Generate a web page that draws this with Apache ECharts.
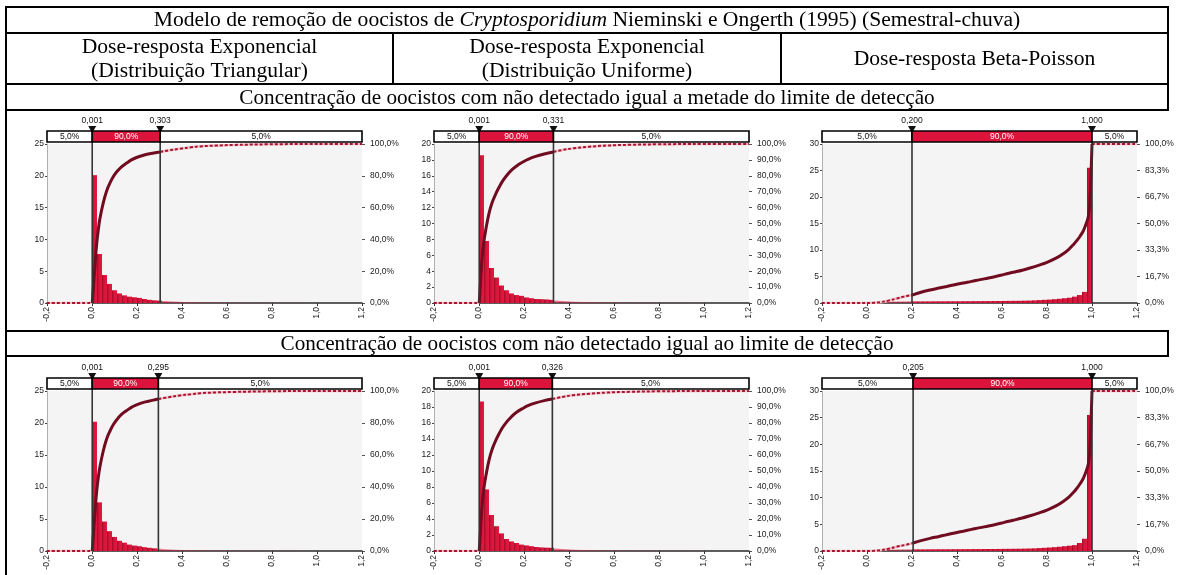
<!DOCTYPE html>
<html>
<head>
<meta charset="utf-8">
<script src="https://cdn.jsdelivr.net/npm/echarts@6/dist/echarts.min.js"></script>
<style>
  html, body { margin: 0; padding: 0; background: #fff; }
  #chart { width: 1184px; height: 575px; }
</style>
</head>
<body>
<div id="chart"></div>
<script>
// ---- Table texts ----
const titleParts = ['Modelo de remoção de oocistos de ', 'Cryptosporidium', ' Nieminski e Ongerth (1995) (Semestral-chuva)'];
const headerCols = [
  ['Dose-resposta Exponencial', '(Distribuição Triangular)'],
  ['Dose-resposta Exponencial', '(Distribuição Uniforme)'],
  ['Dose-resposta Beta-Poisson']
];
const rowTitles = [
  'Concentração de oocistos com não detectado igual a metade do limite de detecção',
  'Concentração de oocistos com não detectado igual ao limite de detecção'
];

// ---- Histogram bins (all panels share the same bin layout) ----
const binStart = 0;
const binWidth = 1 / 45;

// ---- Densities per bin ----
const densTopTri = [20.1, 7.7, 4.4, 3.0, 2.0, 1.5, 1.2, 1.0, 0.9, 0.8, 0.63, 0.5, 0.42, 0.37, 0.3,
  0.26, 0.22, 0.18, 0.15, 0.13, 0.11, 0.1, 0.09, 0.08, 0.07, 0.06, 0.05, 0.05, 0.04, 0.04,
  0.04, 0.03, 0.03, 0.03, 0.03, 0.02, 0.02, 0.02, 0.02, 0.02, 0.02, 0.02, 0.01, 0.01, 0.01];
const densTopUni = [18.6, 7.8, 4.4, 3.2, 2.2, 1.6, 1.2, 1.0, 0.9, 0.7, 0.6, 0.5, 0.48, 0.45, 0.4,
  0.3, 0.26, 0.22, 0.18, 0.15, 0.13, 0.11, 0.1, 0.09, 0.08, 0.07, 0.06, 0.05, 0.05, 0.04,
  0.04, 0.03, 0.03, 0.03, 0.03, 0.02, 0.02, 0.02, 0.02, 0.02, 0.02, 0.02, 0.01, 0.01, 0.01];
const densTopBeta = [0.1, 0.15, 0.2, 0.22, 0.25, 0.28, 0.3, 0.3, 0.32,
  0.3, 0.3, 0.31, 0.31, 0.32, 0.32, 0.32, 0.33, 0.33, 0.33, 0.34, 0.34, 0.35, 0.35, 0.36, 0.36,
  0.37, 0.38, 0.39, 0.4, 0.41, 0.42, 0.44, 0.46,
  0.5, 0.55, 0.6, 0.65, 0.72, 0.8, 0.9,
  1.0, 1.2, 1.5, 2.1, 25.5];
const densBotTri = [20.2, 7.6, 4.6, 3.1, 2.2, 1.6, 1.3, 1.0, 0.85, 0.75, 0.6, 0.5, 0.42, 0.35, 0.28,
  0.24, 0.2, 0.17, 0.14, 0.12, 0.1, 0.09, 0.08, 0.07, 0.06, 0.06, 0.05, 0.05, 0.04, 0.04,
  0.03, 0.03, 0.03, 0.03, 0.02, 0.02, 0.02, 0.02, 0.02, 0.02, 0.02, 0.01, 0.01, 0.01, 0.01];
const densBotUni = [18.7, 7.7, 4.5, 3.1, 2.2, 1.5, 1.2, 1.0, 0.8, 0.7, 0.6, 0.5, 0.45, 0.42, 0.4,
  0.3, 0.26, 0.22, 0.18, 0.15, 0.13, 0.11, 0.1, 0.09, 0.08, 0.07, 0.06, 0.05, 0.05, 0.04,
  0.04, 0.03, 0.03, 0.03, 0.03, 0.02, 0.02, 0.02, 0.02, 0.02, 0.02, 0.02, 0.01, 0.01, 0.01];
const densBotBeta = [0.1, 0.14, 0.19, 0.22, 0.25, 0.27, 0.29, 0.3, 0.31,
  0.3, 0.31, 0.31, 0.32, 0.32, 0.33, 0.33, 0.33, 0.34, 0.34, 0.35, 0.35, 0.36, 0.36, 0.37, 0.37,
  0.38, 0.39, 0.4, 0.41, 0.42, 0.43, 0.45, 0.47,
  0.5, 0.55, 0.6, 0.66, 0.72, 0.8, 0.9,
  1.0, 1.1, 1.5, 2.3, 25.5];

// ---- Cumulative curves: [value, cumulative %] ----
const cdfTopTri = [[-0.2, 0], [0.001, 0], [0.004, 6], [0.008, 14], [0.013, 23], [0.02, 36], [0.028, 46],
  [0.035, 53], [0.05, 63], [0.065, 70.5], [0.08, 75.5], [0.095, 79.5], [0.11, 82.5], [0.13, 85.5],
  [0.154, 88], [0.175, 90], [0.198, 91.5], [0.225, 92.8], [0.25, 93.7], [0.275, 94.4], [0.303, 95],
  [0.34, 96], [0.39, 97], [0.44, 97.9], [0.48, 98.5], [0.55, 99], [0.63, 99.4], [0.78, 99.8], [1.0, 100], [1.2, 100]];
const cdfTopUni = [[-0.2, 0], [0.001, 0], [0.004, 7], [0.008, 17], [0.015, 30], [0.022, 39], [0.03, 46],
  [0.044, 56], [0.058, 63], [0.074, 68.5], [0.09, 73], [0.104, 76.5], [0.125, 80.5], [0.148, 84],
  [0.17, 86.5], [0.193, 88.5], [0.22, 90.5], [0.252, 92.2], [0.29, 93.7], [0.331, 95],
  [0.37, 96.2], [0.42, 97.3], [0.49, 98.3], [0.567, 99], [0.67, 99.5], [0.79, 99.8], [1.0, 100], [1.2, 100]];
const cdfTopBeta = [[-0.2, 0], [0, 0], [0.03, 0.1], [0.058, 0.5], [0.095, 1.5], [0.132, 2.8], [0.165, 4], [0.2, 5],
  [0.24, 6.8], [0.28, 8.2], [0.32, 9.4], [0.354, 10.4], [0.39, 11.5], [0.428, 12.6], [0.465, 13.6],
  [0.502, 14.7], [0.54, 15.7], [0.576, 16.8], [0.61, 18], [0.65, 19.3], [0.69, 20.6], [0.724, 22],
  [0.762, 23.7], [0.8, 25.6], [0.84, 28.2], [0.872, 31], [0.897, 33.8], [0.917, 36.7], [0.935, 39.7],
  [0.947, 42], [0.96, 45], [0.969, 48], [0.978, 51.5], [0.984, 54.5], [0.99, 62], [1.0, 100], [1.2, 100]];
const cdfBotTri = [[-0.2, 0], [0.001, 0], [0.004, 6], [0.008, 14.5], [0.013, 23.5], [0.02, 36], [0.028, 46],
  [0.035, 52.5], [0.05, 62.5], [0.065, 70], [0.08, 75], [0.095, 79], [0.11, 82], [0.13, 85.2],
  [0.154, 87.8], [0.175, 89.8], [0.198, 91.3], [0.225, 92.7], [0.25, 93.6], [0.272, 94.3], [0.295, 95],
  [0.34, 96.1], [0.39, 97.2], [0.44, 98], [0.48, 98.6], [0.55, 99.1], [0.63, 99.4], [0.78, 99.8], [1.0, 100], [1.2, 100]];
const cdfBotUni = [[-0.2, 0], [0.001, 0], [0.004, 7], [0.008, 17], [0.015, 30.5], [0.022, 39.5], [0.03, 46.5],
  [0.044, 56.5], [0.058, 63.5], [0.074, 69], [0.09, 73.5], [0.104, 77], [0.125, 81], [0.148, 84.5],
  [0.17, 87], [0.193, 89], [0.22, 91], [0.252, 92.6], [0.29, 94], [0.326, 95],
  [0.37, 96.3], [0.42, 97.4], [0.49, 98.3], [0.567, 99], [0.67, 99.5], [0.79, 99.8], [1.0, 100], [1.2, 100]];
const cdfBotBeta = [[-0.2, 0], [0, 0], [0.03, 0.1], [0.058, 0.5], [0.095, 1.4], [0.132, 2.7], [0.17, 3.8], [0.205, 5],
  [0.24, 6.5], [0.28, 7.9], [0.32, 9.1], [0.354, 10.2], [0.39, 11.3], [0.428, 12.4], [0.465, 13.5],
  [0.502, 14.6], [0.54, 15.6], [0.576, 16.7], [0.61, 17.9], [0.65, 19.2], [0.69, 20.6], [0.724, 22],
  [0.762, 23.7], [0.8, 25.6], [0.84, 28.2], [0.872, 31], [0.897, 33.7], [0.917, 36.5], [0.935, 39.6],
  [0.947, 42], [0.96, 45], [0.969, 48], [0.978, 51.5], [0.984, 54.5], [0.99, 62], [1.0, 100], [1.2, 100]];

// ---- 5% / 95% quantiles ----
const qTopTri = [0.001, 0.303];
const qTopUni = [0.001, 0.331];
const qTopBeta = [0.200, 1.000];
const qBotTri = [0.001, 0.295];
const qBotUni = [0.001, 0.326];
const qBotBeta = [0.205, 1.000];
const bandPct = [5, 90, 5];

// ---- Axis settings ----
const xMin = -0.2, xMax = 1.2, xStep = 0.2;
const leftMax = [25, 20, 30];
const leftStep = [5, 2, 5];
const rightTicksTri = [0, 20, 40, 60, 80, 100];
const rightTicksUni = [0, 10, 20, 30, 40, 50, 60, 70, 80, 90, 100];
const rightTicksBeta = [0, 16.7, 33.3, 50, 66.7, 83.3, 100];

const panels = [
  { col: 0, row: 0, dens: densTopTri, cdf: cdfTopTri, q: qTopTri, rt: rightTicksTri },
  { col: 1, row: 0, dens: densTopUni, cdf: cdfTopUni, q: qTopUni, rt: rightTicksUni },
  { col: 2, row: 0, dens: densTopBeta, cdf: cdfTopBeta, q: qTopBeta, rt: rightTicksBeta },
  { col: 0, row: 1, dens: densBotTri, cdf: cdfBotTri, q: qBotTri, rt: rightTicksTri },
  { col: 1, row: 1, dens: densBotUni, cdf: cdfBotUni, q: qBotUni, rt: rightTicksUni },
  { col: 2, row: 1, dens: densBotBeta, cdf: cdfBotBeta, q: qBotBeta, rt: rightTicksBeta }
];

// ---- Layout ----
const gridLeft = [47, 434, 822];
const gridTop = [144, 391];
const gridHeight = [159, 160];
const gridWidth = 315;
const tbl = { x0: 6, x1: 1168, c1: 393, c2: 781, y: [7, 33, 84, 110, 331, 356], bottom: 575 };

const SANS = '"Liberation Sans", Arial, sans-serif';
const SERIF = '"Liberation Serif", "Times New Roman", serif';
const CH_FONT = 8.5;
const TBL_FONT = 21.6;
const ROW_FONT = 21.2;
const RED = '#dc143c';

const fmtDec = (v, d) => {
  let s = (Math.round(v * Math.pow(10, d)) / Math.pow(10, d)).toFixed(d);
  if (/^-0[.,]0+$/.test(s)) s = s.slice(1);
  return s.replace('.', ',');
};

const barFill = new echarts.graphic.LinearGradient(0, 0, 1, 0, [
  { offset: 0, color: '#9c0a26' },
  { offset: 0.35, color: '#d2143a' },
  { offset: 1, color: '#e2193f' }
]);

const grids = [], xAxes = [], yAxes = [], series = [];

panels.forEach((p, i) => {
  const yMax = leftMax[p.col], yStep = leftStep[p.col];
  grids.push({
    left: gridLeft[p.col], top: gridTop[p.row], width: gridWidth, height: gridHeight[p.row],
    show: true, backgroundColor: '#f4f4f4', borderWidth: 0
  });
  xAxes.push({
    type: 'value', gridIndex: i, min: xMin, max: xMax, interval: xStep,
    axisLine: { show: true, onZero: false, lineStyle: { color: '#2a2a2a', width: 1.5 } },
    axisTick: { show: true, length: 3, lineStyle: { color: '#333' } },
    axisLabel: {
      rotate: 90, margin: 4, fontSize: CH_FONT, fontFamily: SANS, color: '#222',
      showMinLabel: true, showMaxLabel: true, hideOverlap: false,
      formatter: v => fmtDec(v, 1)
    },
    splitLine: { show: false }
  });
  yAxes.push({
    type: 'value', gridIndex: i, position: 'left', min: 0, max: yMax, interval: yStep,
    axisLine: { show: true, onZero: false, lineStyle: { color: '#b0b0b0', width: 1 } },
    axisTick: { show: true, length: 2, lineStyle: { color: '#444' } },
    axisLabel: { margin: 3, fontSize: CH_FONT, fontFamily: SANS, color: '#222' },
    splitLine: { show: false }
  });
  yAxes.push({
    type: 'value', gridIndex: i, position: 'right', min: 0, max: 100,
    axisLine: { show: false, onZero: false },
    axisTick: { show: true, length: 3, customValues: p.rt, lineStyle: { color: '#555' } },
    axisLabel: {
      customValues: p.rt, margin: 8, fontSize: CH_FONT, fontFamily: SANS, color: '#222',
      formatter: v => fmtDec(v, 1) + '%'
    },
    splitLine: { show: false }
  });

  const [qLo, qHi] = p.q;

  // histogram bars
  series.push({
    type: 'custom', xAxisIndex: i, yAxisIndex: 2 * i, z: 1, silent: true,
    data: p.dens.map((d, k) => [binStart + k * binWidth, binStart + (k + 1) * binWidth, d]),
    encode: { x: [0, 1], y: 2 },
    renderItem: (params, api) => {
      const a = api.value(0), b = api.value(1), h = api.value(2);
      const p0 = api.coord([a, h]), p1 = api.coord([b, 0]);
      const inside = (a + b) / 2 >= qLo && (a + b) / 2 <= qHi;
      return {
        type: 'rect',
        shape: { x: p0[0], y: p0[1], width: p1[0] - p0[0], height: p1[1] - p0[1] },
        style: { fill: barFill, opacity: inside ? 1 : 0.55 }
      };
    }
  });

  // cumulative curve: solid inside the 90% range, hatched outside it
  const inner = p.cdf.filter(d => d[0] >= qLo && d[0] <= qHi);
  const lower = p.cdf.filter(d => d[0] <= qLo);
  const upper = p.cdf.filter(d => d[0] >= qHi);
  [lower, upper].forEach(seg => {
    series.push({
      type: 'line', xAxisIndex: i, yAxisIndex: 2 * i + 1, data: seg, z: 3, silent: true,
      showSymbol: false, symbol: 'none', smooth: 0.4,
      lineStyle: { color: '#f2c4cc', width: 2.6 }
    });
    series.push({
      type: 'line', xAxisIndex: i, yAxisIndex: 2 * i + 1, data: seg, z: 3, silent: true,
      showSymbol: false, symbol: 'none', smooth: 0.4,
      lineStyle: { color: '#a8142f', width: 2, type: [3, 2] }
    });
  });
  series.push({
    type: 'line', xAxisIndex: i, yAxisIndex: 2 * i + 1, data: inner, z: 3, silent: true,
    showSymbol: false, symbol: 'none', smooth: 0.4,
    lineStyle: { color: '#700b20', width: 3 }
  });

  // 5% / 90% / 5% band above the plot
  const edges = [xMin, qLo, qHi, xMax];
  series.push({
    type: 'custom', xAxisIndex: i, yAxisIndex: 2 * i, z: 5, silent: true, clip: false,
    data: bandPct.map((pct, k) => [edges[k], edges[k + 1], pct]),
    encode: { x: [0, 1] },
    renderItem: (params, api) => {
      const x0 = api.coord([api.value(0), 0])[0];
      const x1 = api.coord([api.value(1), 0])[0];
      const top = params.coordSys.y - 13;
      const mid = params.dataIndex === 1;
      return {
        type: 'group', children: [
          { type: 'rect', shape: { x: x0, y: top, width: x1 - x0, height: 11 },
            style: { fill: mid ? RED : '#fff', stroke: '#000', lineWidth: 1.6 } },
          { type: 'text', style: {
              text: fmtDec(api.value(2), 1) + '%', x: (x0 + x1) / 2, y: top + 6,
              align: 'center', verticalAlign: 'middle', fill: mid ? '#fff' : '#111',
              font: CH_FONT + 'px ' + SANS } }
        ]
      };
    }
  });

  // quantile markers with their vertical lines
  series.push({
    type: 'custom', xAxisIndex: i, yAxisIndex: 2 * i, z: 4, silent: true, clip: false,
    data: p.q.map(v => [v, 0]),
    encode: { x: 0, y: 1 },
    renderItem: (params, api) => {
      const pt = api.coord([api.value(0), 0]);
      const top = params.coordSys.y - 13;
      return {
        type: 'group', children: [
          { type: 'line', shape: { x1: pt[0], y1: top, x2: pt[0], y2: pt[1] },
            style: { stroke: '#333', lineWidth: 1.6 } },
          { type: 'polygon', shape: { points: [[pt[0] - 4, top - 5], [pt[0] + 4, top - 5], [pt[0], top + 2]] },
            style: { fill: '#111' }, z2: 10 },
          { type: 'text', style: {
              text: fmtDec(api.value(0), 3), x: pt[0], y: top - 6,
              align: 'center', verticalAlign: 'bottom', fill: '#111',
              font: CH_FONT + 'px ' + SANS } }
        ]
      };
    }
  });
});

// ---- Table frame and texts ----
const line = (x1, y1, x2, y2) => ({
  type: 'line', shape: { x1, y1, x2, y2 }, style: { stroke: '#000', lineWidth: 2 }, z: 100, silent: true
});
const text = (str, x, y, size) => ({
  type: 'text', x, y, z: 100, silent: true,
  style: { text: str, align: 'center', verticalAlign: 'middle', fill: '#000', font: (size || TBL_FONT) + 'px ' + SERIF }
});
const Y = tbl.y;
const graphics = [
  line(tbl.x0, Y[0], tbl.x1, Y[0]),
  line(tbl.x0, Y[1], tbl.x1, Y[1]),
  line(tbl.x0, Y[2], tbl.x1, Y[2]),
  line(tbl.x0, Y[3], tbl.x1, Y[3]),
  line(tbl.x0, Y[4], tbl.x1, Y[4]),
  line(tbl.x0, Y[5], tbl.x1, Y[5]),
  line(tbl.x0, Y[0] - 1, tbl.x0, tbl.bottom),
  line(tbl.x1, Y[0] - 1, tbl.x1, Y[3] + 1),
  line(tbl.x1, Y[4] - 1, tbl.x1, Y[5] + 1),
  line(tbl.c1, Y[1], tbl.c1, Y[2]),
  line(tbl.c2, Y[1], tbl.c2, Y[2]),
  {
    type: 'text', x: (tbl.x0 + tbl.x1) / 2, y: (Y[0] + Y[1]) / 2, z: 100, silent: true,
    style: {
      text: '{n|' + titleParts[0] + '}{i|' + titleParts[1] + '}{n|' + titleParts[2] + '}',
      align: 'center', verticalAlign: 'middle',
      rich: {
        n: { font: TBL_FONT + 'px ' + SERIF, fill: '#000' },
        i: { font: 'italic ' + TBL_FONT + 'px ' + SERIF, fill: '#000' }
      }
    }
  },
  text(rowTitles[0], (tbl.x0 + tbl.x1) / 2, (Y[2] + Y[3]) / 2 + 1, ROW_FONT),
  text(rowTitles[1], (tbl.x0 + tbl.x1) / 2, (Y[4] + Y[5]) / 2 + 1, ROW_FONT)
];
const colCenters = [(tbl.x0 + tbl.c1) / 2, (tbl.c1 + tbl.c2) / 2, (tbl.c2 + tbl.x1) / 2];
headerCols.forEach((lines, c) => {
  const mid = (Y[1] + Y[2]) / 2 + 1;
  if (lines.length === 1) {
    graphics.push(text(lines[0], colCenters[c], mid));
  } else {
    graphics.push(text(lines[0], colCenters[c], mid - 12));
    graphics.push(text(lines[1], colCenters[c], mid + 12));
  }
});

const chart = echarts.init(document.getElementById('chart'), null, { renderer: 'canvas' });
chart.setOption({
  animation: false,
  backgroundColor: '#fff',
  grid: grids,
  xAxis: xAxes,
  yAxis: yAxes,
  series: series,
  graphic: graphics
});
</script>
</body>
</html>
